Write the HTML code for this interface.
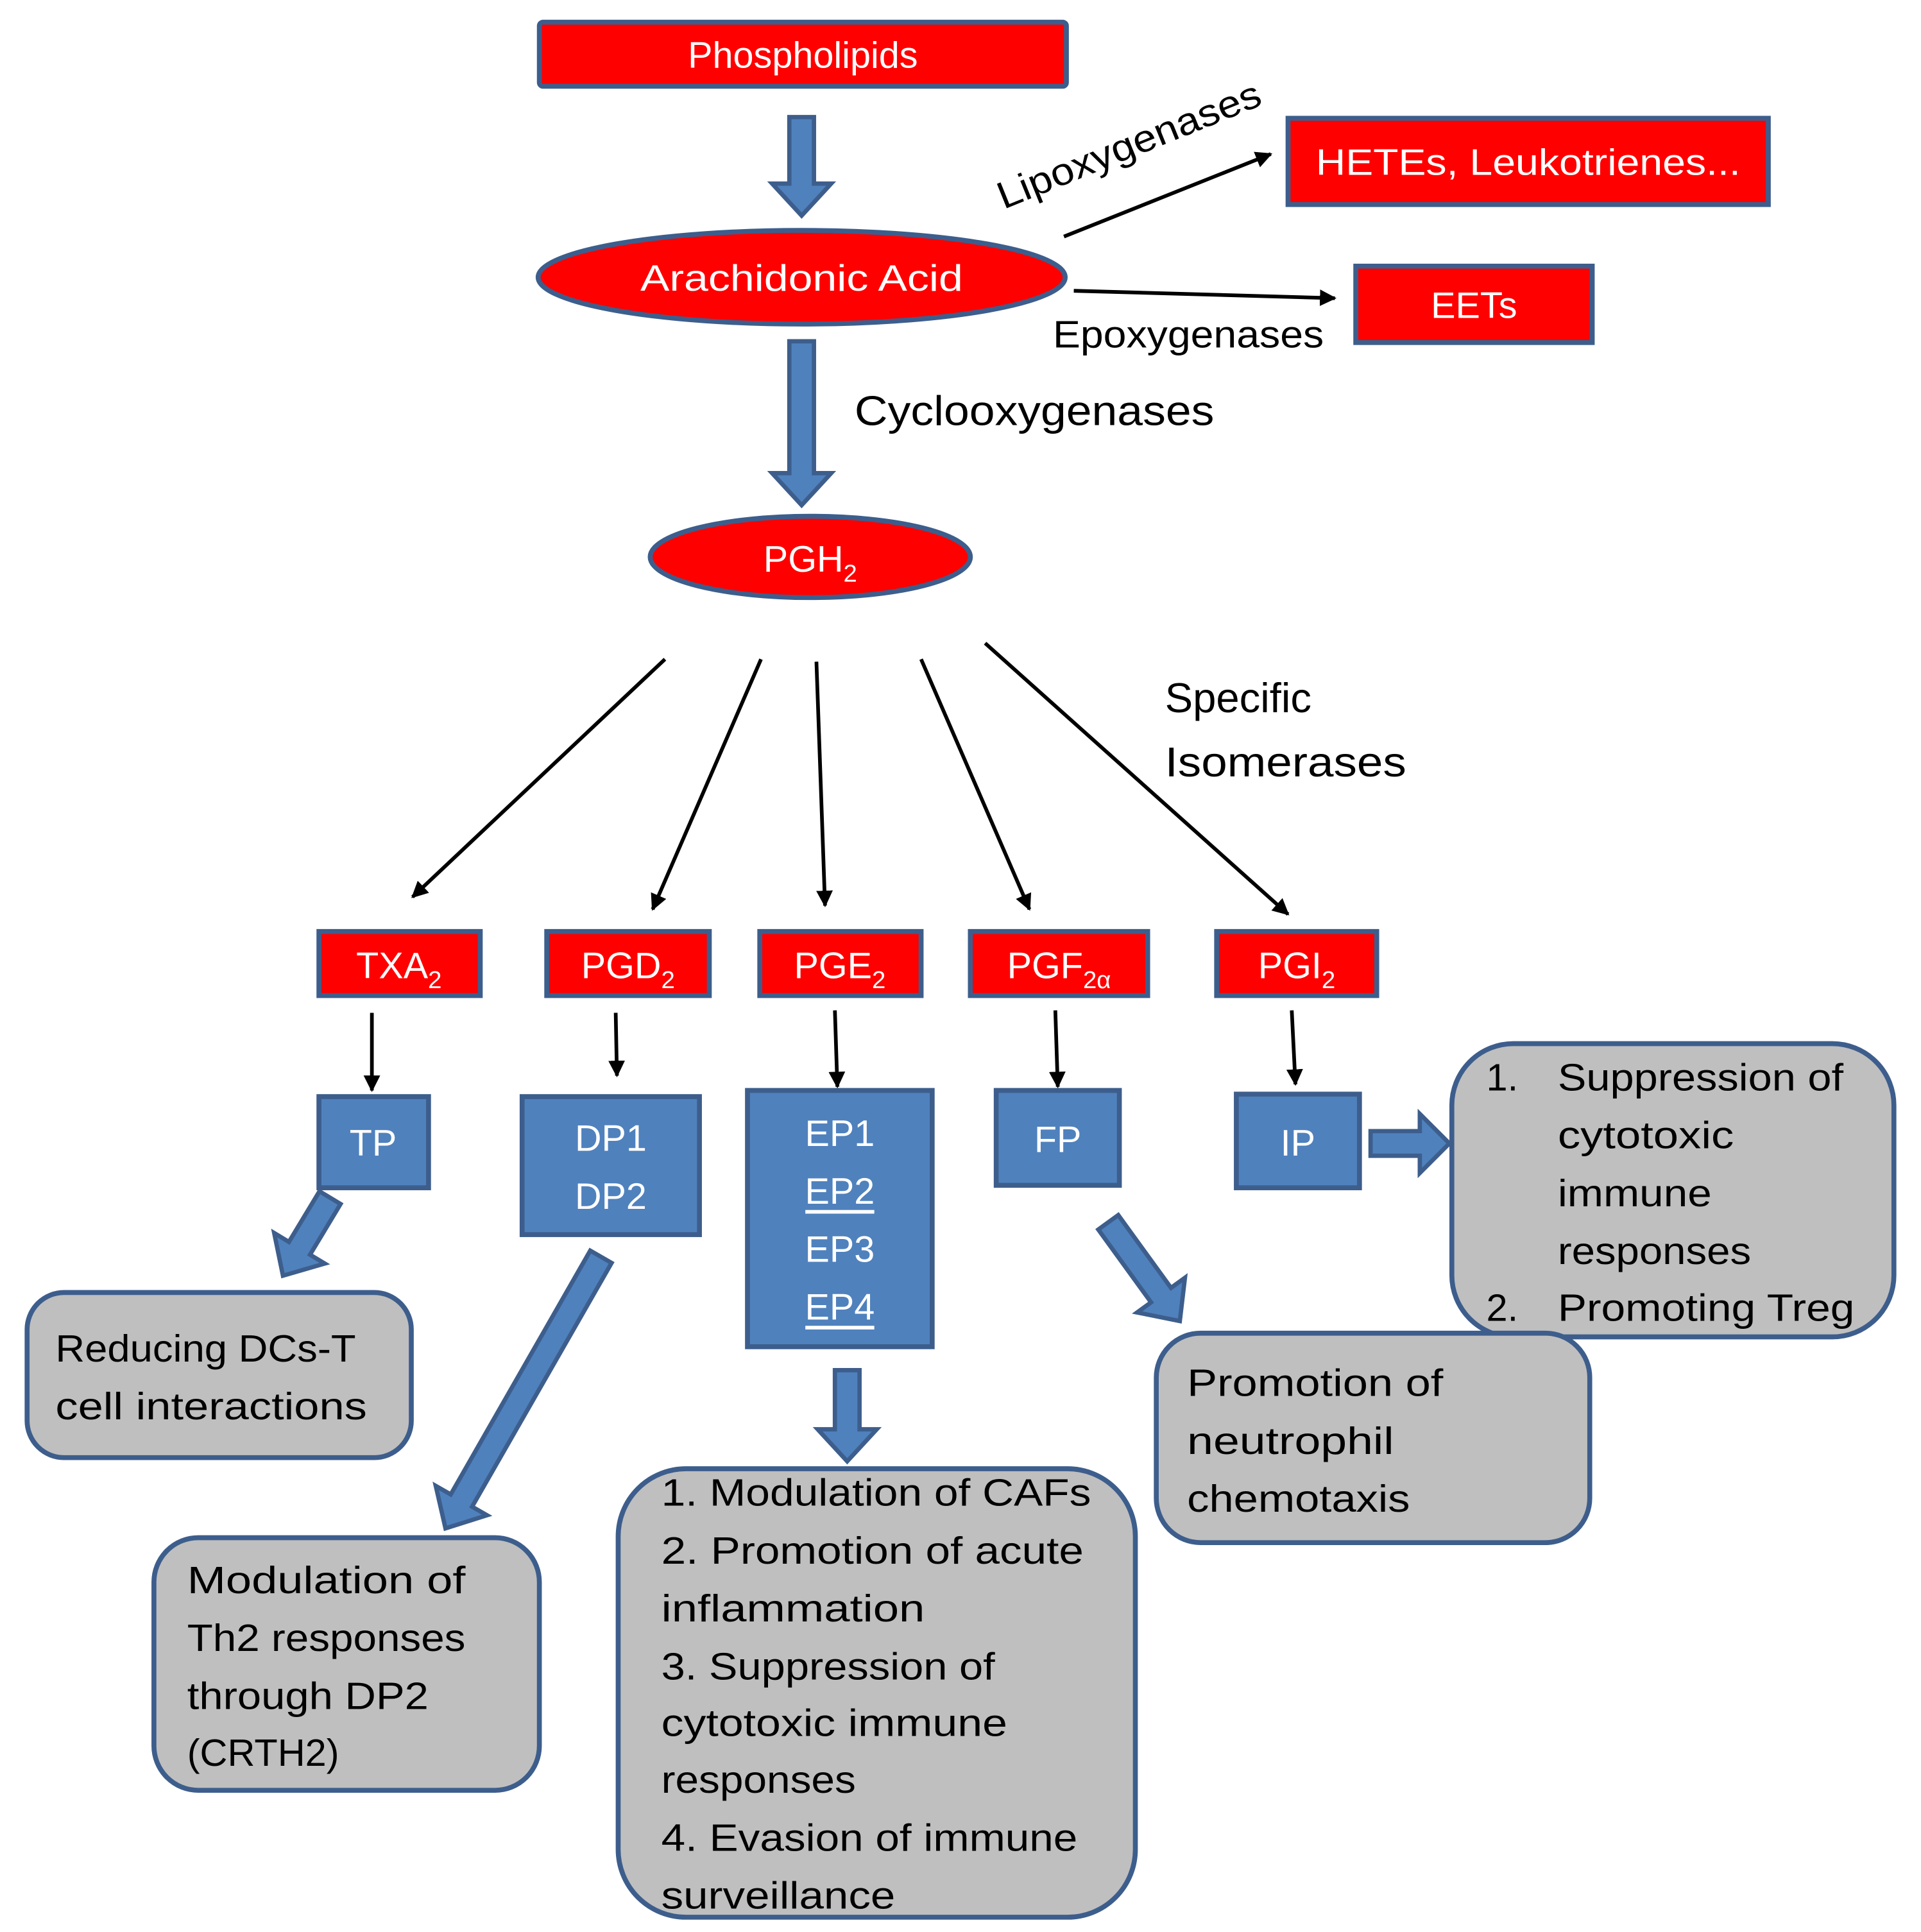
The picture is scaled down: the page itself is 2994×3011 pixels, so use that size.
<!DOCTYPE html>
<html><head><meta charset="utf-8"><style>html,body{margin:0;padding:0;background:#fff}svg{display:block}</style></head>
<body>
<svg width="2994" height="3011" viewBox="0 0 1560 1568" preserveAspectRatio="none" xmlns="http://www.w3.org/2000/svg" font-family="Liberation Sans, sans-serif">
<defs>
<marker id="ah" viewBox="0 0 10 10" refX="9" refY="5" markerWidth="4.5" markerHeight="4.5" orient="auto"><path d="M0,0 L10,5 L0,10 z" fill="#000"/></marker>
</defs>
<g stroke="#3d5e8c" stroke-width="4">
<!-- red nodes -->
<rect x="438" y="18" width="428" height="52" fill="#ff0000" rx="3"/>
<rect x="1046" y="96" width="390" height="70" fill="#ff0000"/>
<rect x="1101" y="216" width="192" height="62" fill="#ff0000"/>
<ellipse cx="651" cy="225" rx="214" ry="38" fill="#ff0000"/>
<ellipse cx="658" cy="452" rx="130" ry="33" fill="#ff0000"/>
<rect x="259" y="756" width="131" height="52" fill="#ff0000"/>
<rect x="444" y="756" width="132" height="52" fill="#ff0000"/>
<rect x="617" y="756" width="131" height="52" fill="#ff0000"/>
<rect x="788" y="756" width="144" height="52" fill="#ff0000"/>
<rect x="988" y="756" width="130" height="52" fill="#ff0000"/>
<!-- blue boxes -->
<rect x="259" y="890" width="89" height="74" fill="#4f81bd"/>
<rect x="424" y="890" width="144" height="112" fill="#4f81bd"/>
<rect x="607" y="885" width="150" height="208" fill="#4f81bd"/>
<rect x="809" y="885" width="100" height="77" fill="#4f81bd"/>
<rect x="1004" y="888" width="100" height="76" fill="#4f81bd"/>
<!-- block arrows -->
<g fill="#4f81bd" stroke-width="3.5">
<g transform="translate(651,95) rotate(90)"><polygon points="0,-10 54,-10 54,-24 80,0 54,24 54,10 0,10"/></g>
<g transform="translate(651,277) rotate(90)"><polygon points="0,-10 107,-10 107,-24 133,0 107,24 107,10 0,10"/></g>
<g transform="translate(268,972) rotate(121.1)"><polygon points="0,-10 48,-10 48,-24 74,0 48,24 48,10 0,10"/></g>
<g transform="translate(488,1020) rotate(119.8)"><polygon points="0,-10 228,-10 228,-24 254,0 228,24 228,10 0,10"/></g>
<g transform="translate(900,992) rotate(54.06)"><polygon points="0,-10 73,-10 73,-24 99,0 73,24 73,10 0,10"/></g>
<g transform="translate(688,1112) rotate(90)"><polygon points="0,-10 48,-10 48,-24 74,0 48,24 48,10 0,10"/></g>
<g transform="translate(1113,928)"><polygon points="0,-10 40,-10 40,-24 64,0 40,24 40,10 0,10"/></g>
</g>
<!-- gray boxes -->
<g fill="#bfbfbf">
<rect x="22" y="1049" width="312" height="134" rx="30"/>
<rect x="125" y="1248" width="313" height="205" rx="36"/>
<rect x="502" y="1192" width="420" height="364" rx="55"/>
<rect x="1179" y="847" width="359" height="238" rx="50"/>
<rect x="939" y="1082" width="352" height="170" rx="36"/>
</g>
</g>
<!-- thin arrows -->
<g stroke="#000" stroke-width="3" marker-end="url(#ah)" fill="none">
<line x1="864" y1="192" x2="1032" y2="125"/>
<line x1="872" y1="236" x2="1084" y2="242"/>
<line x1="540" y1="535" x2="335" y2="728"/>
<line x1="618" y1="535" x2="530" y2="738"/>
<line x1="663" y1="537" x2="670" y2="735"/>
<line x1="748" y1="535" x2="836" y2="738"/>
<line x1="800" y1="522" x2="1046" y2="742"/>
<line x1="302" y1="822" x2="302" y2="885"/>
<line x1="500" y1="822" x2="501" y2="873"/>
<line x1="678" y1="820" x2="680" y2="882"/>
<line x1="857" y1="820" x2="859" y2="882"/>
<line x1="1049" y1="820" x2="1052" y2="880"/>
</g>
<!-- white labels -->
<g fill="#fff" font-size="30" text-anchor="middle">
<text x="652" y="55">Phospholipids</text>
<text x="1241" y="142" textLength="345" lengthAdjust="spacingAndGlyphs">HETEs, Leukotrienes...</text>
<text x="1197" y="258">EETs</text>
<text x="651" y="236" textLength="262" lengthAdjust="spacingAndGlyphs">Arachidonic Acid</text>
<text x="658" y="464">PGH<tspan font-size="20" dy="8">2</tspan></text>
<text x="324" y="794">TXA<tspan font-size="20" dy="8">2</tspan></text>
<text x="510" y="794">PGD<tspan font-size="20" dy="8">2</tspan></text>
<text x="682" y="794">PGE<tspan font-size="20" dy="8">2</tspan></text>
<text x="860" y="794">PGF<tspan font-size="20" dy="8">2α</tspan></text>
<text x="1053" y="794">PGI<tspan font-size="20" dy="8">2</tspan></text>
<text x="303" y="938">TP</text>
<text x="496" y="934">DP1</text>
<text x="496" y="981">DP2</text>
<text x="682" y="930">EP1</text>
<text x="682" y="977">EP2</text>
<text x="682" y="1024">EP3</text>
<text x="682" y="1071">EP4</text>
<text x="859" y="935">FP</text>
<text x="1054" y="938">IP</text>
</g>
<rect x="654" y="982" width="56" height="3" fill="#fff"/>
<rect x="654" y="1076" width="56" height="3" fill="#fff"/>
<!-- black labels -->
<g fill="#000" font-size="31">
<text x="0" y="0" transform="translate(815,170) rotate(-22)" textLength="228" lengthAdjust="spacingAndGlyphs">Lipoxygenases</text>
<text x="855" y="282" textLength="220" lengthAdjust="spacingAndGlyphs">Epoxygenases</text>
<text x="694" y="345" font-size="34" textLength="292" lengthAdjust="spacingAndGlyphs">Cyclooxygenases</text>
<text x="946" y="578" font-size="34">Specific</text>
<text x="946" y="630" font-size="34" textLength="196" lengthAdjust="spacingAndGlyphs">Isomerases</text>
<text x="45" y="1105" textLength="244" lengthAdjust="spacingAndGlyphs">Reducing DCs-T</text>
<text x="45" y="1152" textLength="253" lengthAdjust="spacingAndGlyphs">cell interactions</text>
<text x="152" y="1293" textLength="226" lengthAdjust="spacingAndGlyphs">Modulation of</text>
<text x="152" y="1340" textLength="226" lengthAdjust="spacingAndGlyphs">Th2 responses</text>
<text x="152" y="1387" textLength="196" lengthAdjust="spacingAndGlyphs">through DP2</text>
<text x="152" y="1433">(CRTH2)</text>
<text x="537" y="1222" textLength="349" lengthAdjust="spacingAndGlyphs">1. Modulation of CAFs</text>
<text x="537" y="1269" textLength="343" lengthAdjust="spacingAndGlyphs">2. Promotion of acute</text>
<text x="537" y="1316" textLength="214" lengthAdjust="spacingAndGlyphs">inflammation</text>
<text x="537" y="1363" textLength="271" lengthAdjust="spacingAndGlyphs">3. Suppression of</text>
<text x="537" y="1409" textLength="281" lengthAdjust="spacingAndGlyphs">cytotoxic immune</text>
<text x="537" y="1455" textLength="158" lengthAdjust="spacingAndGlyphs">responses</text>
<text x="537" y="1502" textLength="338" lengthAdjust="spacingAndGlyphs">4. Evasion of immune</text>
<text x="537" y="1549" textLength="190" lengthAdjust="spacingAndGlyphs">surveillance</text>
<text x="964" y="1133" textLength="208" lengthAdjust="spacingAndGlyphs">Promotion of</text>
<text x="964" y="1180" textLength="168" lengthAdjust="spacingAndGlyphs">neutrophil</text>
<text x="964" y="1227" textLength="181" lengthAdjust="spacingAndGlyphs">chemotaxis</text>
<text x="1207" y="885">1.</text>
<text x="1265" y="885" textLength="232" lengthAdjust="spacingAndGlyphs">Suppression of</text>
<text x="1265" y="932" textLength="143" lengthAdjust="spacingAndGlyphs">cytotoxic</text>
<text x="1265" y="979" textLength="125" lengthAdjust="spacingAndGlyphs">immune</text>
<text x="1265" y="1026" textLength="157" lengthAdjust="spacingAndGlyphs">responses</text>
<text x="1207" y="1072">2.</text>
<text x="1265" y="1072" textLength="241" lengthAdjust="spacingAndGlyphs">Promoting Treg</text>
</g>
</svg>
</body></html>
